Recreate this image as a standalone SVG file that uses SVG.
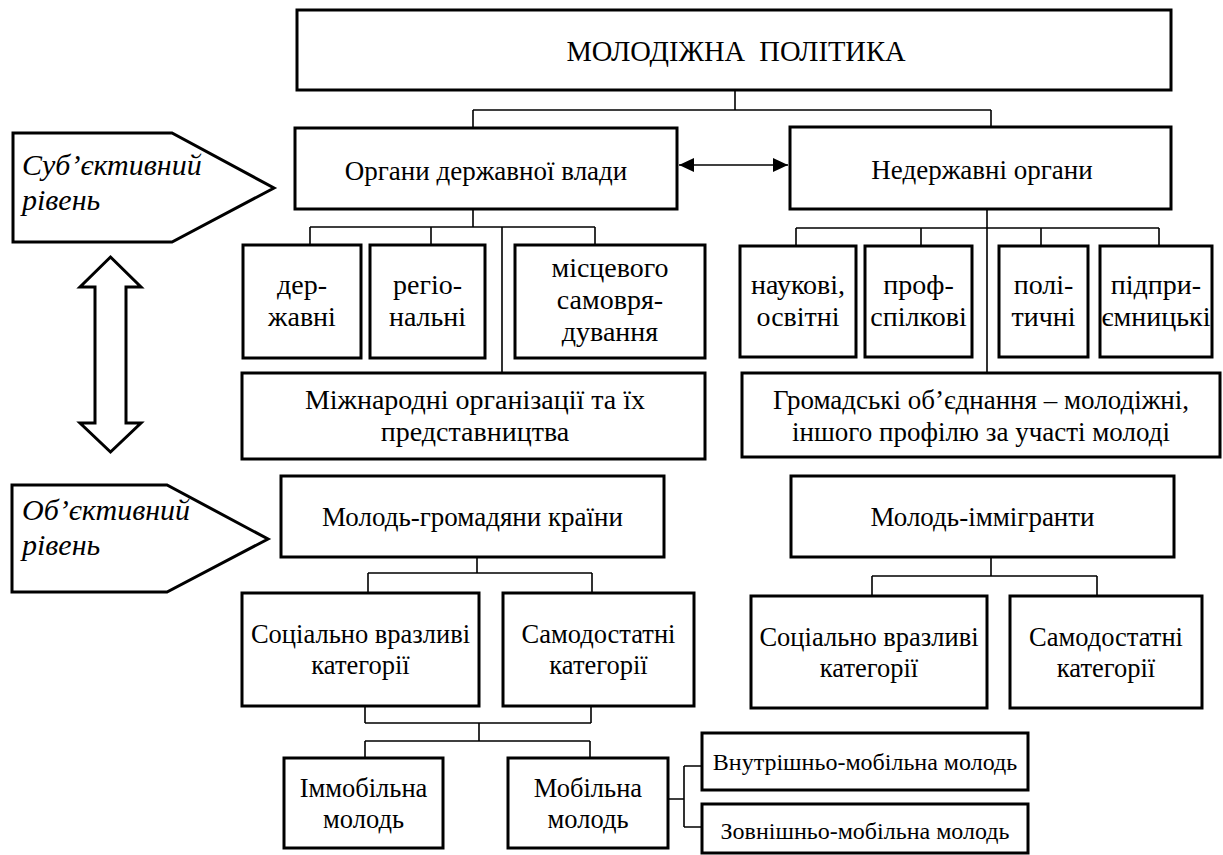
<svg xmlns="http://www.w3.org/2000/svg" width="1223" height="855" viewBox="0 0 1223 855" font-family="Liberation Serif, Times New Roman, DejaVu Serif, serif">
<style>
.b{fill:#fff;stroke:#000;stroke-width:3}
.c{fill:none;stroke:#000;stroke-width:1.6}
text{font-size:27px;fill:#000;text-anchor:middle}
.i{font-style:italic;text-anchor:start;font-size:30px}
.s{font-size:28px}
.m{font-size:26.5px}
.t{font-size:24px}
</style>
<defs>
<marker id="ah" viewBox="0 0 15 14" refX="15" refY="7" markerWidth="15" markerHeight="14" markerUnits="userSpaceOnUse" orient="auto-start-reverse">
<path d="M0,0 L15,7 L0,14 Z" fill="#000"/>
</marker>
</defs>
<rect width="1223" height="855" fill="#fff"/>
<g id="connectors">
<path class="c" d="M735,90 V110 M473,110 H991 M473,110 V128 M991,110 V127"/>
<line class="c" x1="679" y1="165" x2="788" y2="165" marker-start="url(#ah)" marker-end="url(#ah)"/>
<path class="c" d="M473,209 V227 M310,227 H595 M310,227 V245 M431,227 V245 M595,227 V245 M502,227 V373"/>
<path class="c" d="M987,209 V373 M796,228 H1159 M796,228 V246 M921,228 V246 M1041,228 V246 M1159,228 V246"/>
<path class="c" d="M477,557 V573 M368,573 H592 M368,573 V593 M592,573 V593"/>
<path class="c" d="M991,557 V576 M872,576 H1097 M872,576 V596 M1097,576 V596"/>
<path class="c" d="M365,706 V723 M591,706 V723 M365,723 H591 M479,723 V741 M365,741 H590 M365,741 V758 M590,741 V758"/>
<path class="c" d="M668,799 H684 M684,766 V827 M684,766 H702 M684,827 H702"/>
</g>
<g id="level-arrow">
<polygon class="b" stroke-width="2" points="110.5,257 141,287 126,287 126,423 141,423 110.5,452 80,423 95,423 95,287 80,287"/>
</g>
<g id="subj">
<polygon class="b" points="13,133 172,133 274,188 172,242 13,242"/>
<text class="i" x="22" y="175">Суб’єктивний</text>
<text class="i" x="22" y="210">рівень</text>
</g>
<g id="obj">
<polygon class="b" points="12,485 167,485 268,539 167,592 12,592"/>
<text class="i" x="22" y="520">Об’єктивний</text>
<text class="i" x="22" y="555">рівень</text>
</g>
<g id="top"><rect class="b" x="297" y="10" width="874" height="80"/><text x="736" y="61" style="white-space:pre;font-size:28.5px">МОЛОДІЖНА  ПОЛІТИКА</text></g>
<g id="gov"><rect class="b" x="295" y="128" width="382" height="81"/><text x="486" y="180">Органи державної влади</text></g>
<g id="nongov"><rect class="b" x="790" y="127" width="381" height="82"/><text x="982" y="179">Недержавні органи</text></g>
<g id="state"><rect class="b" x="243" y="245" width="118" height="113"/><text class="s" x="302" y="294">дер-</text><text class="s" x="302" y="326">жавні</text></g>
<g id="regional"><rect class="b" x="370" y="245" width="115" height="113"/><text class="s" x="427.5" y="294">регіо-</text><text class="s" x="427.5" y="326">нальні</text></g>
<g id="local"><rect class="b" x="515" y="245" width="190" height="113"/><text class="s" x="610" y="277">місцевого</text><text class="s" x="610" y="309">самовря-</text><text class="s" x="610" y="341">дування</text></g>
<g id="science"><rect class="b" x="740" y="246" width="116" height="111"/><text class="s" x="798" y="294">наукові,</text><text class="s" x="798" y="326">освітні</text></g>
<g id="union"><rect class="b" x="865" y="246" width="107" height="111"/><text class="s" x="918.5" y="294">проф-</text><text class="s" x="918.5" y="326">спілкові</text></g>
<g id="political"><rect class="b" x="999" y="246" width="89" height="111"/><text class="s" x="1043.5" y="294">полі-</text><text class="s" x="1043.5" y="326">тичні</text></g>
<g id="business"><rect class="b" x="1100" y="246" width="112" height="111"/><text class="s" x="1156" y="294">підпри-</text><text class="s" x="1156" y="326">ємницькі</text></g>
<g id="intl"><rect class="b" x="242" y="373" width="463" height="86"/><text class="s" x="475" y="409">Міжнародні організації та їх</text><text class="s" x="475" y="441">представництва</text></g>
<g id="public"><rect class="b" x="742" y="373" width="478" height="84"/><text x="981" y="409">Громадські об’єднання – молодіжні,</text><text x="981" y="441">іншого профілю за участі молоді</text></g>
<g id="citizens"><rect class="b" x="281" y="476" width="383" height="81"/><text x="472.5" y="526">Молодь-громадяни країни</text></g>
<g id="immigrants"><rect class="b" x="791" y="476" width="383" height="81"/><text x="982.5" y="526">Молодь-іммігранти</text></g>
<g id="vuln1"><rect class="b" x="242" y="593" width="237" height="113"/><text class="m" x="360.5" y="643">Соціально вразливі</text><text class="m" x="360.5" y="674">категорії</text></g>
<g id="self1"><rect class="b" x="503" y="593" width="191" height="113"/><text class="m" x="598.5" y="643">Самодостатні</text><text class="m" x="598.5" y="674">категорії</text></g>
<g id="vuln2"><rect class="b" x="751" y="596" width="236" height="112"/><text class="m" x="869" y="646">Соціально вразливі</text><text class="m" x="869" y="677">категорії</text></g>
<g id="self2"><rect class="b" x="1010" y="596" width="192" height="112"/><text class="m" x="1106" y="646">Самодостатні</text><text class="m" x="1106" y="677">категорії</text></g>
<g id="immobile"><rect class="b" x="284" y="758" width="159" height="90"/><text class="m" x="363.5" y="797">Іммобільна</text><text class="m" x="363.5" y="828">молодь</text></g>
<g id="mobile"><rect class="b" x="508" y="758" width="160" height="90"/><text class="m" x="588" y="797">Мобільна</text><text class="m" x="588" y="828">молодь</text></g>
<g id="internal"><rect class="b" x="702" y="733" width="326" height="57"/><text class="t" x="865" y="770">Внутрішньо-мобільна молодь</text></g>
<g id="external"><rect class="b" x="702" y="804" width="326" height="49"/><text class="t" x="865" y="839">Зовнішньо-мобільна молодь</text></g>
</svg>
